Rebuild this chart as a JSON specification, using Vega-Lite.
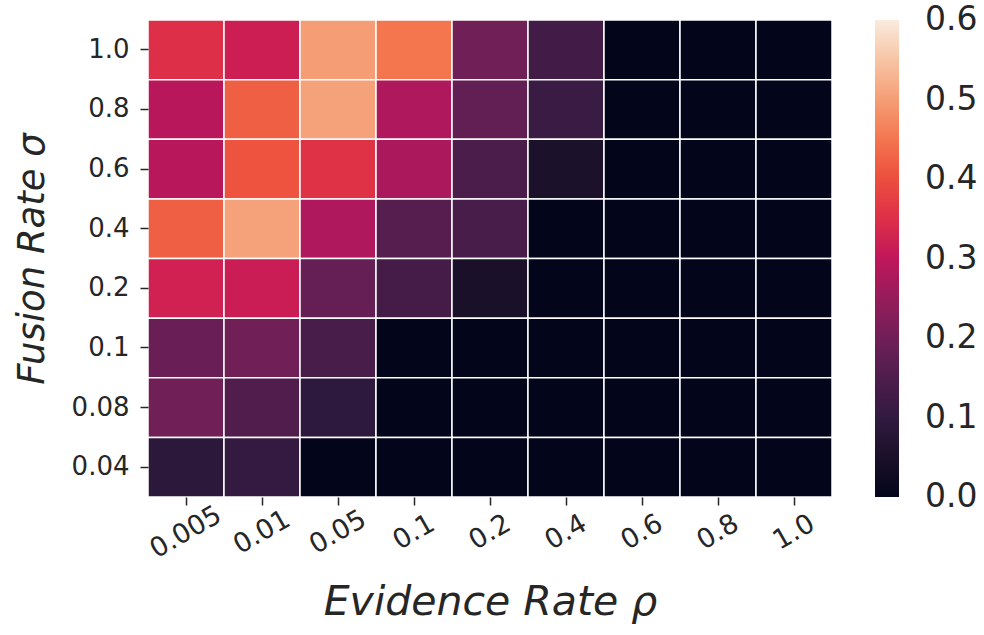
{
  "$schema": "https://vega.github.io/schema/vega-lite/v6.json",
  "width": 684,
  "height": 477,
  "autosize": {"type": "none"},
  "padding": {"left": 148, "top": 20, "right": 152, "bottom": 138},
  "background": "white",
  "config": {
    "font": "DejaVu Sans",
    "view": {"stroke": null},
    "axis": {"domain": false, "grid": false, "labelColor": "#262626", "titleColor": "#262626", "tickColor": "#262626", "tickSize": 8, "tickWidth": 1.5, "labelFont": "DejaVu Sans", "titleFont": "DejaVu Sans"},
    "legend": {"padding": 0, "labelFont": "DejaVu Sans"}
  },
  "data": {
    "values": [
      {"rho": "0.005", "sigma": "1.0", "v": 0.35}, {"rho": "0.01", "sigma": "1.0", "v": 0.32}, {"rho": "0.05", "sigma": "1.0", "v": 0.5}, {"rho": "0.1", "sigma": "1.0", "v": 0.45}, {"rho": "0.2", "sigma": "1.0", "v": 0.2}, {"rho": "0.4", "sigma": "1.0", "v": 0.13}, {"rho": "0.6", "sigma": "1.0", "v": 0.0}, {"rho": "0.8", "sigma": "1.0", "v": 0.0}, {"rho": "1.0", "sigma": "1.0", "v": 0.0},
      {"rho": "0.005", "sigma": "0.8", "v": 0.29}, {"rho": "0.01", "sigma": "0.8", "v": 0.42}, {"rho": "0.05", "sigma": "0.8", "v": 0.505}, {"rho": "0.1", "sigma": "0.8", "v": 0.28}, {"rho": "0.2", "sigma": "0.8", "v": 0.18}, {"rho": "0.4", "sigma": "0.8", "v": 0.115}, {"rho": "0.6", "sigma": "0.8", "v": 0.0}, {"rho": "0.8", "sigma": "0.8", "v": 0.0}, {"rho": "1.0", "sigma": "0.8", "v": 0.0},
      {"rho": "0.005", "sigma": "0.6", "v": 0.29}, {"rho": "0.01", "sigma": "0.6", "v": 0.405}, {"rho": "0.05", "sigma": "0.6", "v": 0.355}, {"rho": "0.1", "sigma": "0.6", "v": 0.275}, {"rho": "0.2", "sigma": "0.6", "v": 0.145}, {"rho": "0.4", "sigma": "0.6", "v": 0.055}, {"rho": "0.6", "sigma": "0.6", "v": 0.0}, {"rho": "0.8", "sigma": "0.6", "v": 0.0}, {"rho": "1.0", "sigma": "0.6", "v": 0.0},
      {"rho": "0.005", "sigma": "0.4", "v": 0.42}, {"rho": "0.01", "sigma": "0.4", "v": 0.505}, {"rho": "0.05", "sigma": "0.4", "v": 0.28}, {"rho": "0.1", "sigma": "0.4", "v": 0.16}, {"rho": "0.2", "sigma": "0.4", "v": 0.14}, {"rho": "0.4", "sigma": "0.4", "v": 0.0}, {"rho": "0.6", "sigma": "0.4", "v": 0.0}, {"rho": "0.8", "sigma": "0.4", "v": 0.0}, {"rho": "1.0", "sigma": "0.4", "v": 0.0},
      {"rho": "0.005", "sigma": "0.2", "v": 0.325}, {"rho": "0.01", "sigma": "0.2", "v": 0.315}, {"rho": "0.05", "sigma": "0.2", "v": 0.185}, {"rho": "0.1", "sigma": "0.2", "v": 0.135}, {"rho": "0.2", "sigma": "0.2", "v": 0.05}, {"rho": "0.4", "sigma": "0.2", "v": 0.0}, {"rho": "0.6", "sigma": "0.2", "v": 0.0}, {"rho": "0.8", "sigma": "0.2", "v": 0.0}, {"rho": "1.0", "sigma": "0.2", "v": 0.0},
      {"rho": "0.005", "sigma": "0.1", "v": 0.19}, {"rho": "0.01", "sigma": "0.1", "v": 0.2}, {"rho": "0.05", "sigma": "0.1", "v": 0.14}, {"rho": "0.1", "sigma": "0.1", "v": 0.0}, {"rho": "0.2", "sigma": "0.1", "v": 0.0}, {"rho": "0.4", "sigma": "0.1", "v": 0.0}, {"rho": "0.6", "sigma": "0.1", "v": 0.0}, {"rho": "0.8", "sigma": "0.1", "v": 0.0}, {"rho": "1.0", "sigma": "0.1", "v": 0.0},
      {"rho": "0.005", "sigma": "0.08", "v": 0.2}, {"rho": "0.01", "sigma": "0.08", "v": 0.155}, {"rho": "0.05", "sigma": "0.08", "v": 0.095}, {"rho": "0.1", "sigma": "0.08", "v": 0.0}, {"rho": "0.2", "sigma": "0.08", "v": 0.0}, {"rho": "0.4", "sigma": "0.08", "v": 0.0}, {"rho": "0.6", "sigma": "0.08", "v": 0.0}, {"rho": "0.8", "sigma": "0.08", "v": 0.0}, {"rho": "1.0", "sigma": "0.08", "v": 0.0},
      {"rho": "0.005", "sigma": "0.04", "v": 0.09}, {"rho": "0.01", "sigma": "0.04", "v": 0.105}, {"rho": "0.05", "sigma": "0.04", "v": 0.0}, {"rho": "0.1", "sigma": "0.04", "v": 0.0}, {"rho": "0.2", "sigma": "0.04", "v": 0.0}, {"rho": "0.4", "sigma": "0.04", "v": 0.0}, {"rho": "0.6", "sigma": "0.04", "v": 0.0}, {"rho": "0.8", "sigma": "0.04", "v": 0.0}, {"rho": "1.0", "sigma": "0.04", "v": 0.0}
    ]
  },
  "mark": {"type": "rect", "stroke": "white", "strokeWidth": 1.5},
  "encoding": {
    "x": {
      "field": "rho", "type": "ordinal",
      "sort": ["0.005", "0.01", "0.05", "0.1", "0.2", "0.4", "0.6", "0.8", "1.0"],
      "scale": {"paddingInner": 0, "paddingOuter": 0},
      "axis": {"title": "Evidence Rate ρ", "titleFontSize": 41, "titleFontStyle": "italic", "titleFontWeight": "normal", "titlePadding": 20, "labelFontSize": 27, "labelAngle": -30, "labelAlign": "center", "labelBaseline": "middle", "labelPadding": 27}
    },
    "y": {
      "field": "sigma", "type": "ordinal",
      "sort": ["1.0", "0.8", "0.6", "0.4", "0.2", "0.1", "0.08", "0.04"],
      "scale": {"paddingInner": 0, "paddingOuter": 0},
      "axis": {"title": "Fusion Rate σ", "titleFontSize": 37, "titleFontStyle": "italic", "titleFontWeight": "normal", "titlePadding": 20, "labelFontSize": 26, "labelPadding": 11}
    },
    "color": {
      "field": "v", "type": "quantitative",
      "scale": {"domain": [0, 0.6], "range": ["#03051A", "#1A1029", "#311A40", "#4E1D4B", "#701F57", "#961C5B", "#C0175A", "#DE2F48", "#EC4E3E", "#F3764F", "#F59E76", "#F7C4A5", "#FAEBDD"]},
      "legend": {
        "title": null, "orient": "right", "offset": 43, "gradientLength": 477, "gradientThickness": 24, "gradientStrokeWidth": 0,
        "values": [0, 0.1, 0.2, 0.3, 0.4, 0.5, 0.6], "format": ".1f", "labelFontSize": 33, "labelColor": "#262626", "labelOffset": 26, "labelOverlap": false,
        "encode": {"labels": {"update": {"baseline": {"value": "middle"}}}}
      }
    }
  }
}
